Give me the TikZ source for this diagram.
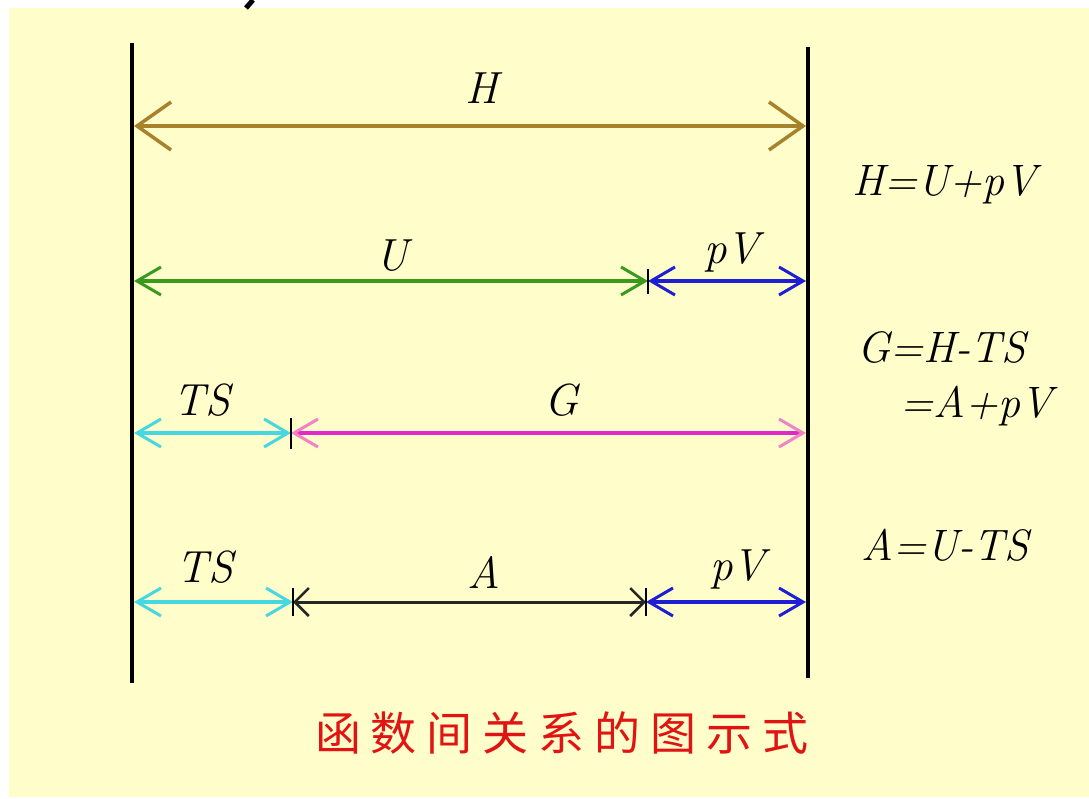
\documentclass[tikz,border=0pt]{standalone}
\usepackage{fontspec}
\newfontfamily\cjk{Noto Sans CJK SC}
\usetikzlibrary{arrows.meta}
\definecolor{bg}{RGB}{255,253,202}
\definecolor{hcol}{RGB}{168,130,42}
\definecolor{ucol}{RGB}{58,154,30}
\definecolor{pvcol}{RGB}{30,30,210}
\definecolor{tscol}{RGB}{70,215,225}
\definecolor{gcol}{RGB}{225,40,200}
\definecolor{gtip}{RGB}{240,130,200}
\definecolor{ttl}{RGB}{225,20,20}
\begin{document}
\begin{tikzpicture}[x=1pt,y=-1pt,
  lbl/.style={inner sep=0pt, anchor=base, font=\fontsize{45}{54}\selectfont\itshape},
  eqn/.style={inner sep=0pt, anchor=base west, font=\fontsize{44}{54}\selectfont\itshape},
  wall/.style={line width=4pt, black},
  bigarr/.style={line width=4.5pt, {Straight Barb[length=34pt,width=48pt,line width=3.5pt]}-{Straight Barb[length=34pt,width=48pt,line width=3.5pt]}},
  arr/.style={line width=4pt, {Straight Barb[length=24pt,width=28pt,line width=3pt]}-{Straight Barb[length=24pt,width=28pt,line width=3pt]}},
  smallarr/.style={line width=3pt, {Straight Barb[length=14pt,width=28pt,line width=2.5pt]}-{Straight Barb[length=14pt,width=28pt,line width=2.5pt]}},
  tick/.style={line width=2.5pt, black}]
\useasboundingbox (0,0) rectangle (1089,798);
\fill[white] (0,0) rectangle (1089,798);
\fill[bg] (9,8) rectangle (1089,797);
\draw[line width=5pt] (253,0) -- (246,8);
% walls
\coordinate (L1) at (132,43); \coordinate (L2) at (132,683);
\coordinate (R1) at (808,47); \coordinate (R2) at (808,678);
\draw[wall] (L1) -- (L2);
\draw[wall] (R1) -- (R2);
% row 1
\coordinate (h1) at (134,126); \coordinate (h2) at (806,126);
\draw[bigarr, hcol] (h1) -- (h2);
\node[lbl] (H) at (482,103) {H};
% row 2
\coordinate (u1) at (134,281); \coordinate (u2) at (648,281); \coordinate (u3) at (806,281);
\draw[arr, ucol] (u1) -- (u2);
\draw[arr, pvcol] (u2) -- (u3);
\draw[tick] ([yshift=-13pt]u2) -- ([yshift=12pt]u2);
\node[lbl] (U) at (392,270) {U};
\node[lbl] (pV1) at (732,263) {pV};
% row 3
\coordinate (g1) at (134,433); \coordinate (g2) at (291,433); \coordinate (g3) at (806,433);
\draw[arr, tscol] (g1) -- (g2);
\draw[line width=4pt, gcol, {Straight Barb[length=24pt,width=28pt,line width=3pt,color=gtip]}-{Straight Barb[length=24pt,width=28pt,line width=3pt,color=gtip]}] (g2) -- (g3);
\draw[tick] ([yshift=-16pt]g2) -- ([yshift=15pt]g2);
\node[lbl] (TS1) at (202,415) {TS};
\node[lbl] (G) at (562,415) {G};
% row 4
\coordinate (a1) at (134,602); \coordinate (a2) at (293,602); \coordinate (a3) at (646,602); \coordinate (a4) at (806,602);
\draw[arr, tscol] (a1) -- (a2);
\draw[smallarr, black!85] (a2) -- (a3);
\draw[arr, pvcol] (a3) -- (a4);
\draw[tick] ([yshift=-14pt]a2) -- ([yshift=14pt]a2);
\draw[tick] ([yshift=-14pt]a3) -- ([yshift=14pt]a3);
\node[lbl] (TS2) at (205,582) {TS};
\node[lbl] (A) at (484,588) {A};
\node[lbl] (pV2) at (738,580) {pV};
% equations
\node[eqn] (e1) at (852,195) {H=U+pV};
\node[eqn] (e2) at (857,362) {G=H-TS};
\node[eqn] (e3) at (900,417) {=A+pV};
\node[eqn] (e4) at (861,560) {A=U-TS};
% title
\node[inner sep=0pt, text=ttl, font=\cjk\fontsize{46}{50}\selectfont] (title) at (562,733)
  {函\hspace{10pt}数\hspace{10pt}间\hspace{10pt}关\hspace{10pt}系\hspace{10pt}的\hspace{10pt}图\hspace{10pt}示\hspace{10pt}式};
\end{tikzpicture}
\end{document}
